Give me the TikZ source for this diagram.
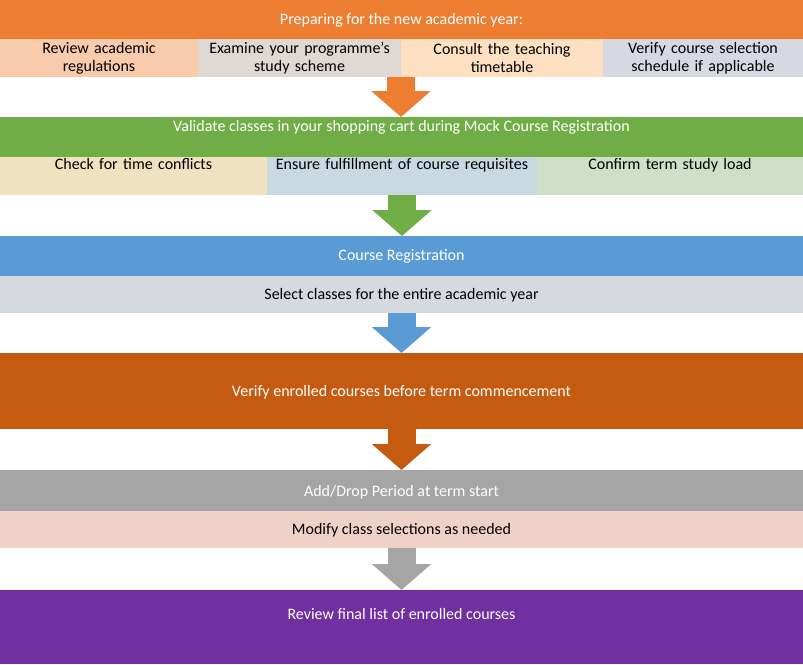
\documentclass[tikz,border=0pt]{standalone}
\usepackage{fontspec}
\setmainfont{Carlito}
\usetikzlibrary{positioning,arrows.meta}

\definecolor{prepOrange}{HTML}{ED7D31}
\definecolor{mockGreen}{HTML}{70AD47}
\definecolor{regBlue}{HTML}{5B9BD5}
\definecolor{termRust}{HTML}{C55A11}
\definecolor{dropGrey}{HTML}{A5A5A5}
\definecolor{finalPurple}{HTML}{7030A0}
\definecolor{rulesPink}{HTML}{F8CBAD}
\definecolor{schemeTaupe}{HTML}{E0D8D3}
\definecolor{timetablePeach}{HTML}{FDDFC1}
\definecolor{scheduleSlate}{HTML}{D6D9E1}
\definecolor{conflictTan}{HTML}{F0E1C0}
\definecolor{requisiteBlue}{HTML}{C9D9E1}
\definecolor{loadGreen}{HTML}{CFE0C6}
\definecolor{selectGrey}{HTML}{D6DAE0}
\definecolor{modifyRose}{HTML}{F0D1C7}

\tikzset{
  stage/.style={fill=#1, text=white, minimum width=803pt, inner sep=0pt, outer sep=0pt},
  task/.style={fill=#1, text=black, inner sep=0pt, outer sep=0pt, align=center},
  flow/.style={draw=#1, line width=28pt, -{Triangle[width=58pt,length=26pt]}},
}

\begin{document}
\begin{tikzpicture}[x=1pt, y=-1pt, node distance=0pt,
    font=\fontsize{16}{18}\selectfont]
  \fill[white] (0,0) rectangle (803,664);
  \useasboundingbox (0,0) rectangle (803,664);

  % stage 1: preparation
  \node[stage=prepOrange, anchor=north west, text height=24.2pt, text depth=14.8pt]
    (prep) at (0,0) {Preparing for the new academic year:};
  \node[task=rulesPink, below=of prep.south west, anchor=north west,
    text width=198pt, minimum height=38pt] (regulations)
    {Review academic\\regulations};
  \node[task=schemeTaupe, right=of regulations, text width=203pt,
    minimum height=38pt] (scheme) {Examine your programme's\\study scheme};
  \node[task=timetablePeach, right=of scheme, text width=202pt,
    minimum height=38pt] (timetable) {Consult the teaching\\timetable};
  \node[task=scheduleSlate, right=of timetable, text width=200pt,
    minimum height=38pt] (schedule) {Verify course selection\\schedule if applicable};

  % stage 2: mock registration
  \node[stage=mockGreen, below=40pt of regulations.south west, anchor=north west,
    text height=14.2pt, text depth=25.8pt] (mock)
    {Validate classes in your shopping cart during Mock Course Registration};
  \node[task=conflictTan, below=of mock.south west, anchor=north west,
    text width=267pt, text height=12.2pt, text depth=25.8pt] (conflicts)
    {Check for time conflicts};
  \node[task=requisiteBlue, right=of conflicts, text width=270pt,
    text height=12.2pt, text depth=25.8pt] (requisites)
    {Ensure fulfillment of course requisites};
  \node[task=loadGreen, right=of requisites, text width=266pt,
    text height=12.2pt, text depth=25.8pt] (load) {Confirm term study load};

  % stage 3: registration
  \node[stage=regBlue, below=41pt of conflicts.south west, anchor=north west,
    text height=24.2pt, text depth=15.8pt] (reg) {Course Registration};
  \node[task=selectGrey, below=of reg, minimum width=803pt, text height=23.2pt,
    text depth=13.8pt] (select) {Select classes for the entire academic year};

  % stage 4 to 6
  \node[stage=termRust, below=40pt of select, text height=43.2pt,
    text depth=32.8pt] (verify) {Verify enrolled courses before term commencement};
  \node[stage=dropGrey, below=41pt of verify, text height=26.2pt,
    text depth=14.8pt] (adddrop) {Add/Drop Period at term start};
  \node[task=modifyRose, below=of adddrop, minimum width=803pt, text height=23.2pt,
    text depth=13.8pt] (modify) {Modify class selections as needed};
  \node[stage=finalPurple, below=42pt of modify, text height=29.2pt,
    text depth=44.8pt] (review) {Review final list of enrolled courses};

  \draw[flow=prepOrange] (timetable.south west) -- (mock.north -| timetable.south west);
  \draw[flow=mockGreen] (requisites.south) -- (reg.north -| requisites.south);
  \draw[flow=regBlue] (select.south) -- (verify.north);
  \draw[flow=termRust] (verify.south) -- (adddrop.north);
  \draw[flow=dropGrey] (modify.south) -- (review.north);
\end{tikzpicture}
\end{document}
